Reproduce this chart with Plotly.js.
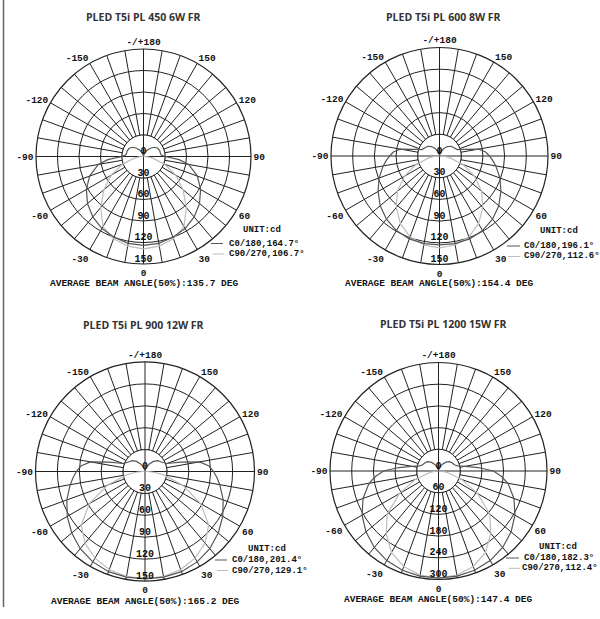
<!DOCTYPE html>
<html><head><meta charset="utf-8">
<script src="https://cdn.plot.ly/plotly-3.0.1.min.js"></script>
<style>html,body{margin:0;padding:0;background:#fff}#chart{width:600px;height:619px}</style>
</head><body><div id="chart"></div>
<script>
// ---------- data ----------
const titles = ["PLED T5i PL 450 6W FR", "PLED T5i PL 600 8W FR", "PLED T5i PL 900 12W FR", "PLED T5i PL 1200 15W FR"];
// gamma angles (deg) of the half-plane; curves are symmetric about 0
const gammaAngles = [0, 10, 20, 30, 40, 50, 60, 70, 80, 85, 90, 95, 100, 105, 110, 120, 130, 140, 150, 160, 170, 180];
// intensities (cd)
const c0_450  = [124, 123, 120, 116, 110, 102, 92, 80, 64, 50, 30, 25, 24, 24, 24, 23, 20, 15, 10, 5, 2, 0];
const c90_450 = [129, 127, 122, 113, 93, 72, 52, 31, 13, 6, 2, 1, 0, 0, 0, 0, 0, 0, 0, 0, 0, 0];
const c0_600  = [123, 123, 122, 119, 114, 107, 98, 89, 79, 74, 69, 64, 55, 35, 26, 23, 21, 17, 12, 6, 2, 0];
const c90_600 = [127, 125, 119, 108, 93, 76, 56, 35, 15, 7, 2, 1, 0, 0, 0, 0, 0, 0, 0, 0, 0, 0];
const c0_900  = [147, 147, 146, 143, 138, 131, 123, 114, 104, 99, 94, 88, 76, 50, 32, 26, 23, 18, 12, 6, 2, 0];
const c90_900 = [147, 146, 143, 137, 128, 114, 88, 55, 25, 12, 4, 1, 0, 0, 0, 0, 0, 0, 0, 0, 0, 0];
const c0_1200  = [296, 295, 292, 286, 276, 262, 244, 222, 195, 175, 152, 110, 75, 55, 48, 44, 40, 32, 22, 12, 4, 0];
const c90_1200 = [296, 292, 281, 260, 225, 185, 125, 68, 25, 12, 4, 1, 0, 0, 0, 0, 0, 0, 0, 0, 0, 0];
const radialTicksA = [0, 30, 60, 90, 120, 150];
const radialTicksB = [0, 60, 120, 180, 240, 300];
const beamC0  = ["164.7", "196.1", "201.4", "182.3"];
const beamC90 = ["106.7", "112.6", "129.1", "112.4"];
const avgBeam = ["135.7", "154.4", "165.2", "147.4"];
const angularTickVals = [0,10,20,30,40,50,60,70,80,90,100,110,120,130,140,150,160,170,180,190,200,210,220,230,240,250,260,270,280,290,300,310,320,330,340,350];
const angularTickText = ["0","","","30","","","60","","","90","","","120","","","150","","","-/+180","","","-150","","","-120","","","-90","","","-60","","","-30","",""];

// ---------- layout helpers ----------
const W = 600, H = 619;
const px = x => x / W, py = y => 1 - y / H;
const charts = [
  {c0: c0_450,  c90: c90_450,  ticks: radialTicksA, cx: 143.5, cy: 156.5, R: 107.5,
   title: [143, 17], unit: [240.7, 230], l0: [211, 223, 243.5, 226.7], l90: [213, 224, 254, 226.7], avg: [144, 283.5]},
  {c0: c0_600,  c90: c90_600,  ticks: radialTicksA, cx: 439.5, cy: 156, R: 108.5,
   title: [443, 17.3], unit: [538, 231], l0: [507, 520, 246, 522], l90: [508, 520, 256.5, 522], avg: [438.5, 284]},
  {c0: c0_900,  c90: c90_900,  ticks: radialTicksA, cx: 145, cy: 471.5, R: 109.5,
   title: [143, 325], unit: [246, 548.5], l0: [215, 227, 560, 230], l90: [217, 228, 570.5, 230], avg: [145, 601]},
  {c0: c0_1200, c90: c90_1200, ticks: radialTicksB, cx: 438.5, cy: 471, R: 108.5,
   title: [443, 324], unit: [537, 546.7], l0: [506, 519, 558, 522], l90: [509, 520, 568.3, 520], avg: [438, 599]}
];

const mono = "Courier New, Liberation Mono, monospace";
const gridCol = "#222";
const fullTheta = gammaAngles.slice().reverse().map(a => -a).concat(gammaAngles.slice(1));
const full = v => v.slice().reverse().concat(v.slice(1));
const circTheta = []; for (let a = 0; a <= 360; a += 5) circTheta.push(a);

const data = [], layout = {
  width: W, height: H, margin: {l: 0, r: 0, t: 0, b: 0},
  paper_bgcolor: "#fff", showlegend: false, annotations: [], shapes: []
};

charts.forEach((c, i) => {
  const pid = i === 0 ? "polar" : "polar" + (i + 1);
  const ring0 = c.ticks[1], rmax = c.ticks[c.ticks.length - 1];
  layout[pid] = {
    domain: {x: [px(c.cx - c.R), px(c.cx + c.R)], y: [py(c.cy + c.R), py(c.cy - c.R)]},
    bgcolor: "#fff",
    radialaxis: {range: [0, rmax], tickvals: c.ticks.slice(1), showticklabels: false, ticks: "",
                 showline: false, gridcolor: gridCol, gridwidth: 1},
    angularaxis: {rotation: 270, direction: "counterclockwise", tickmode: "array",
                  tickvals: angularTickVals, ticktext: angularTickText, ticks: "",
                  showline: true, linecolor: gridCol, linewidth: 1.2, gridcolor: gridCol, gridwidth: 1,
                  tickfont: {family: mono, size: 9.5, color: "#111", weight: "bold"}}
  };
  // white disc hiding the spokes inside the first ring
  data.push({type: "scatterpolar", subplot: pid, mode: "lines", r: circTheta.map(() => ring0), theta: circTheta,
             fill: "toself", fillcolor: "#fff", line: {color: gridCol, width: 1}, hoverinfo: "skip"});
  // main axes through the centre
  data.push({type: "scatterpolar", subplot: pid, mode: "lines",
             r: [ring0, 0, ring0, null, ring0, 0, ring0], theta: [0, 0, 180, null, 90, 90, 270],
             line: {color: gridCol, width: 1}, hoverinfo: "skip"});
  data.push({type: "scatterpolar", subplot: pid, mode: "lines", r: full(c.c90), theta: fullTheta,
             line: {color: "#bdbdbd", width: 1.2}, name: "C90/270"});
  data.push({type: "scatterpolar", subplot: pid, mode: "lines", r: full(c.c0), theta: fullTheta,
             line: {color: "#555", width: 1.2}, name: "C0/180"});
  data.push({type: "scatterpolar", subplot: pid, mode: "text", r: c.ticks, theta: c.ticks.map(() => 0),
             text: c.ticks.map(String), textposition: "top center",
             textfont: {family: mono, size: 10, color: "#111", weight: "bold"}, hoverinfo: "skip"});

  const ann = (x, y, text, size, xanchor, family, color) => layout.annotations.push({
    xref: "paper", yref: "paper", x: px(x), y: py(y), text: text, showarrow: false,
    xanchor: xanchor, yanchor: "middle", font: {family: family, size: size, color: color, weight: "bold"}});
  ann(c.title[0], c.title[1], titles[i], 10.5, "center", "Open Sans, Noto Sans, sans-serif", "#333");
  ann(c.unit[0], c.unit[1], "UNIT:cd", 9, "left", mono, "#111");
  ann(c.l0[3], c.l0[2], "C0/180," + beamC0[i] + "°", 9, "left", mono, "#111");
  ann(c.l90[3], c.l90[2], "C90/270," + beamC90[i] + "°", 9, "left", mono, "#111");
  ann(c.avg[0], c.avg[1], "AVERAGE BEAM ANGLE(50%):" + avgBeam[i] + " DEG", 9.5, "center", mono, "#111");
  layout.shapes.push({type: "line", xref: "paper", yref: "paper", x0: px(c.l0[0]), x1: px(c.l0[1]),
                      y0: py(c.l0[2]), y1: py(c.l0[2]), line: {color: "#555", width: 1}});
  layout.shapes.push({type: "line", xref: "paper", yref: "paper", x0: px(c.l90[0]), x1: px(c.l90[1]),
                      y0: py(c.l90[2]), y1: py(c.l90[2]), line: {color: "#bdbdbd", width: 1}});
});
layout.shapes.push({type: "line", xref: "paper", yref: "paper", x0: px(3.5), x1: px(3.5), y0: py(0), y1: py(607),
                    line: {color: "#666", width: 1.5}});

Plotly.newPlot("chart", data, layout, {staticPlot: true});
</script></body></html>
